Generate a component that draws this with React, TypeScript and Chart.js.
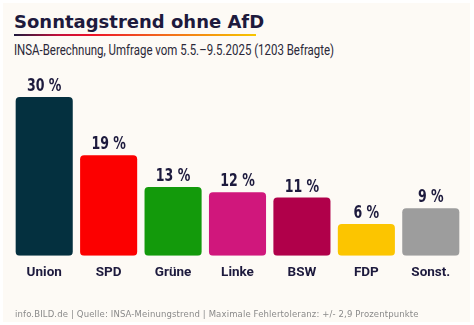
import React, { useEffect, useLayoutEffect, useRef } from "react";
import { Chart, registerables } from "chart.js";

Chart.register(...registerables);

const categories = ["Union", "SPD", "Grüne", "Linke", "BSW", "FDP", "Sonst."];
const values = [30, 19, 13, 12, 11, 6, 9];
const barColors = ["#04303f", "#fc0000", "#139a0b", "#d0177c", "#b0004a", "#fcc500", "#9d9d9d"];

const TITLE = "Sonntagstrend ohne AfD";
const SUBTITLE = "INSA-Berechnung, Umfrage vom 5.5.–9.5.2025 (1203 Befragte)";
const FOOTER = "info.BILD.de | Quelle: INSA-Meinungstrend | Maximale Fehlertoleranz: +/- 2,9 Prozentpunkte";

const NAVY = "#1d1a3d";
const SANS = '"DejaVu Sans", sans-serif';
const ROBOTO = 'Roboto, "Liberation Sans", sans-serif';
const SUBTITLE_WIDTH = 320;

const valueLabels = {
  id: "valueLabels",
  afterDatasetsDraw(chart: any) {
    const ctx = chart.ctx;
    const meta = chart.getDatasetMeta(0);
    ctx.save();
    ctx.font = `bold 17px ${SANS}`;
    ctx.fillStyle = NAVY;
    ctx.textAlign = "center";
    ctx.textBaseline = "alphabetic";
    meta.data.forEach((bar: any, i: number) => {
      ctx.save();
      ctx.translate(bar.x, bar.y - 6);
      ctx.scale(0.74, 1);
      ctx.fillText(`${values[i]} %`, 0, 0);
      ctx.restore();
    });
    ctx.restore();
  },
};

export default function App() {
  const ref = useRef<HTMLCanvasElement>(null);
  const subRef = useRef<HTMLDivElement>(null);

  useLayoutEffect(() => {
    const el = subRef.current;
    if (el) {
      const w = el.scrollWidth;
      if (w > 0) el.style.transform = `scaleX(${SUBTITLE_WIDTH / w})`;
    }
  }, []);

  useEffect(() => {
    document.body.style.margin = "0";
    const chart = new Chart(ref.current!, {
      type: "bar",
      data: {
        labels: categories,
        datasets: [
          {
            data: values,
            backgroundColor: barColors,
            borderRadius: 4,
            borderSkipped: false,
            categoryPercentage: 1,
            barPercentage: 0.886,
          },
        ],
      },
      options: {
        animation: false,
        responsive: false,
        maintainAspectRatio: false,
        devicePixelRatio: 1,
        layout: { padding: { top: 60, bottom: 35, left: 12, right: 11 } },
        plugins: { legend: { display: false }, tooltip: { enabled: false } },
        scales: {
          y: { display: false, min: 0, max: 37 },
          x: {
            grid: { display: false, drawTicks: false },
            border: { display: false },
            ticks: {
              color: NAVY,
              padding: 9,
              font: { family: ROBOTO, weight: "bold", size: 13.5 },
            },
          },
        },
      },
      plugins: [valueLabels],
    });
    return () => chart.destroy();
  }, []);

  return (
    <div style={{ position: "fixed", left: 0, top: 0, width: 474, height: 325, background: "#ffffff", overflow: "hidden" }}>
      <div style={{ position: "absolute", left: 3, top: 3, width: 467, height: 319, background: "#fdfaf5" }} />
      <div
        style={{
          position: "absolute",
          left: 14,
          top: 11,
          fontFamily: SANS,
          fontWeight: 700,
          fontSize: 18,
          lineHeight: "22px",
          color: NAVY,
          whiteSpace: "nowrap",
        }}
      >
        {TITLE}
      </div>
      <div
        style={{
          position: "absolute",
          left: 14,
          top: 34,
          width: 242,
          height: 2,
          background: "linear-gradient(90deg, #1d1a3d 0%, #c2103c 18%, #ec1228 32%, #f26a1c 62%, #f7c600 100%)",
        }}
      />
      <div
        ref={subRef}
        style={{
          position: "absolute",
          left: 14,
          top: 42,
          fontFamily: ROBOTO,
          fontSize: 14,
          lineHeight: "16px",
          color: "#2a2838",
          whiteSpace: "nowrap",
          transformOrigin: "0 0",
        }}
      >
        {SUBTITLE}
      </div>
      <canvas ref={ref} width={474} height={325} style={{ position: "absolute", left: 0, top: 0, width: 474, height: 325 }} />
      <div
        style={{
          position: "absolute",
          left: 15,
          top: 308,
          fontFamily: SANS,
          fontSize: 8.5,
          letterSpacing: "0.14px",
          lineHeight: "12px",
          color: "#8a8a8a",
          whiteSpace: "nowrap",
        }}
      >
        {FOOTER}
      </div>
    </div>
  );
}
